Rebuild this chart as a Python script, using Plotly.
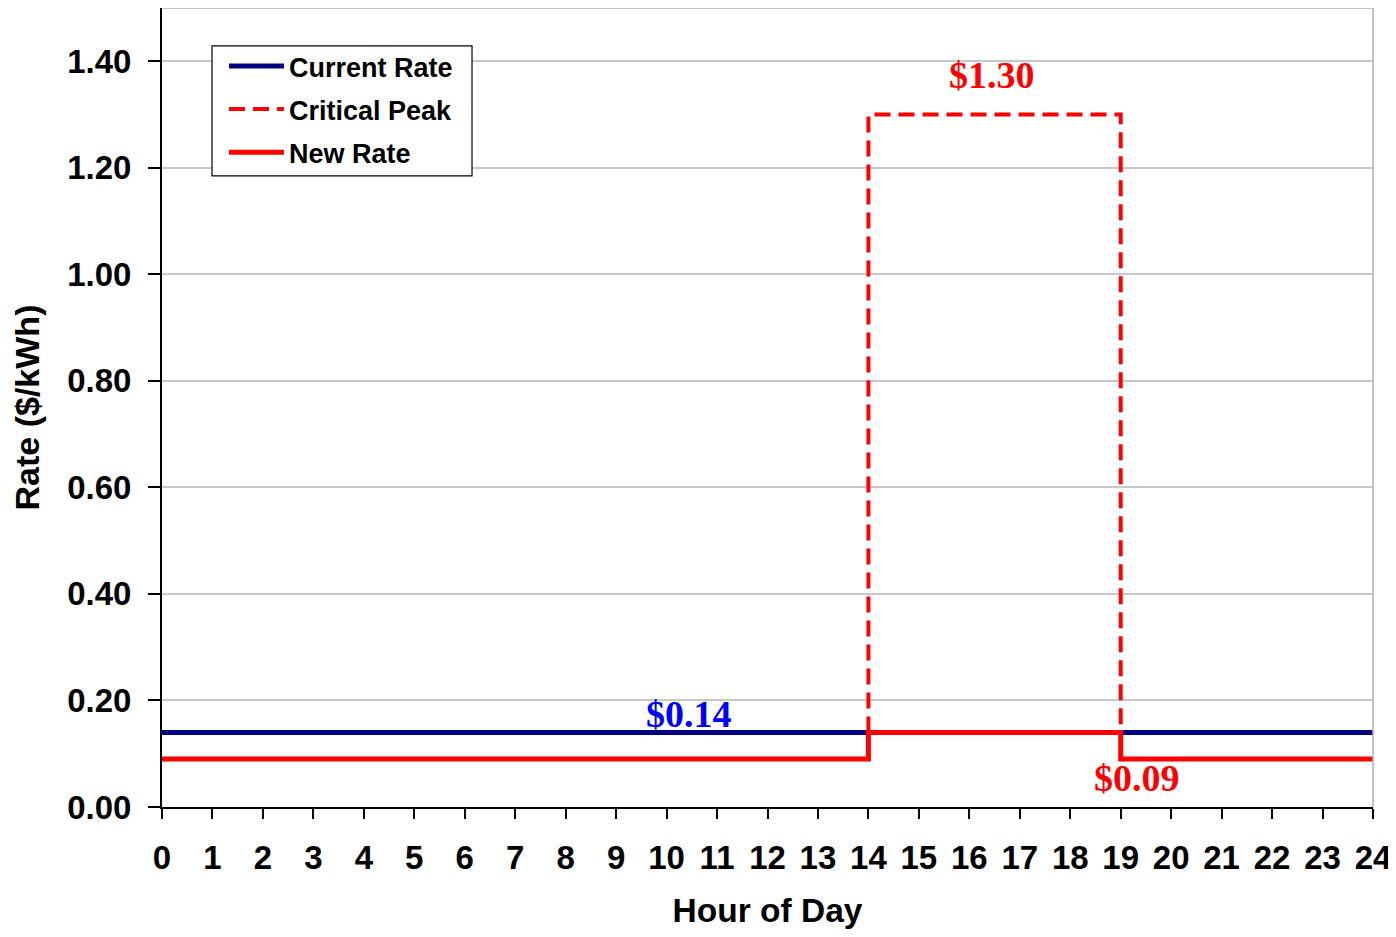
import plotly.graph_objects as go

hours = list(range(25))
current_rate = [0.14] * 25
new_rate = [0.09] * 14 + [0.14] * 5 + [0.09] * 6
peak_x = [14, 14, 19, 19]
peak_y = [0.14, 1.30, 1.30, 0.14]
y_ticks = [0.0, 0.2, 0.4, 0.6, 0.8, 1.0, 1.2, 1.4]

lbl_font = dict(family="Liberation Serif, Times New Roman", size=38, weight="bold")
sans = "Liberation Sans, Arial"

fig = go.Figure()
fig.add_trace(go.Scatter(x=hours, y=current_rate, mode="lines", name="Current Rate",
                         line=dict(color="#000080", width=5), legendrank=1, legendgroup="a"))
fig.add_trace(go.Scatter(x=hours, y=new_rate, mode="lines", name="New Rate", line_shape="hv",
                         line=dict(color="#FF0000", width=5), legendrank=3, legendgroup="c"))
fig.add_trace(go.Scatter(x=peak_x, y=peak_y, mode="lines", name="Critical Peak",
                         line=dict(color="#FF0000", width=4, dash="16px,8px"), legendrank=2, legendgroup="b"))

fig.add_annotation(x=16.45, y=1.375, text="$1.30", showarrow=False, font=dict(color="#FF0000", **lbl_font))
fig.add_annotation(x=10.45, y=0.175, text="$0.14", showarrow=False, font=dict(color="#0000FF", **lbl_font))
fig.add_annotation(x=19.33, y=0.055, text="$0.09", showarrow=False, font=dict(color="#FF0000", **lbl_font))

# top/right frame
fig.add_shape(type="line", xref="paper", yref="paper", x0=0, x1=1, y0=1, y1=1, line=dict(color="#B0B0B0", width=1.5))
fig.add_shape(type="line", xref="paper", yref="paper", x0=1, x1=1, y0=0, y1=1, line=dict(color="#B0B0B0", width=1.5))
# legend box
fig.add_shape(type="rect", xref="paper", yref="paper", x0=0.0413, x1=0.256, y0=0.79, y1=0.9525,
              fillcolor="white", line=dict(color="black", width=1.2))

fig.update_layout(
    width=1388, height=921,
    margin=dict(l=154, r=23, t=0, b=122, autoexpand=False),
    plot_bgcolor="white", paper_bgcolor="white",
    font=dict(family=sans, color="black"),
    legend=dict(x=0.0512, y=0.9575, xanchor="left", yanchor="top",
                bgcolor="rgba(0,0,0,0)", borderwidth=0,
                font=dict(size=27, weight="bold", family=sans),
                tracegroupgap=5, itemwidth=55),
)
fig.update_xaxes(range=[0, 24], tickmode="array", tickvals=hours, ticktext=[str(h) for h in hours],
                 showgrid=False, showline=True, linecolor="black", linewidth=2,
                 ticks="outside", ticklen=10, tickwidth=2, tickcolor="black",
                 tickfont=dict(size=33, weight="bold"), ticklabelstandoff=10, automargin=False,
                 title=dict(text="Hour of Day", font=dict(size=33.5, weight="bold"), standoff=40),
                 zeroline=False)
fig.update_yaxes(range=[0, 1.5], tickmode="array", tickvals=y_ticks, ticktext=[f"{v:.2f}" for v in y_ticks],
                 showgrid=True, gridcolor="#C8C8C8", gridwidth=1.5,
                 showline=True, linecolor="black", linewidth=2,
                 ticks="outside", ticklen=12, tickwidth=2, tickcolor="black",
                 tickfont=dict(size=33, weight="bold"), ticklabelstandoff=10, automargin=False,
                 title=dict(text="Rate ($/kWh)", font=dict(size=34, weight="bold"), standoff=18),
                 zeroline=False)

fig.write_html("out.html")
